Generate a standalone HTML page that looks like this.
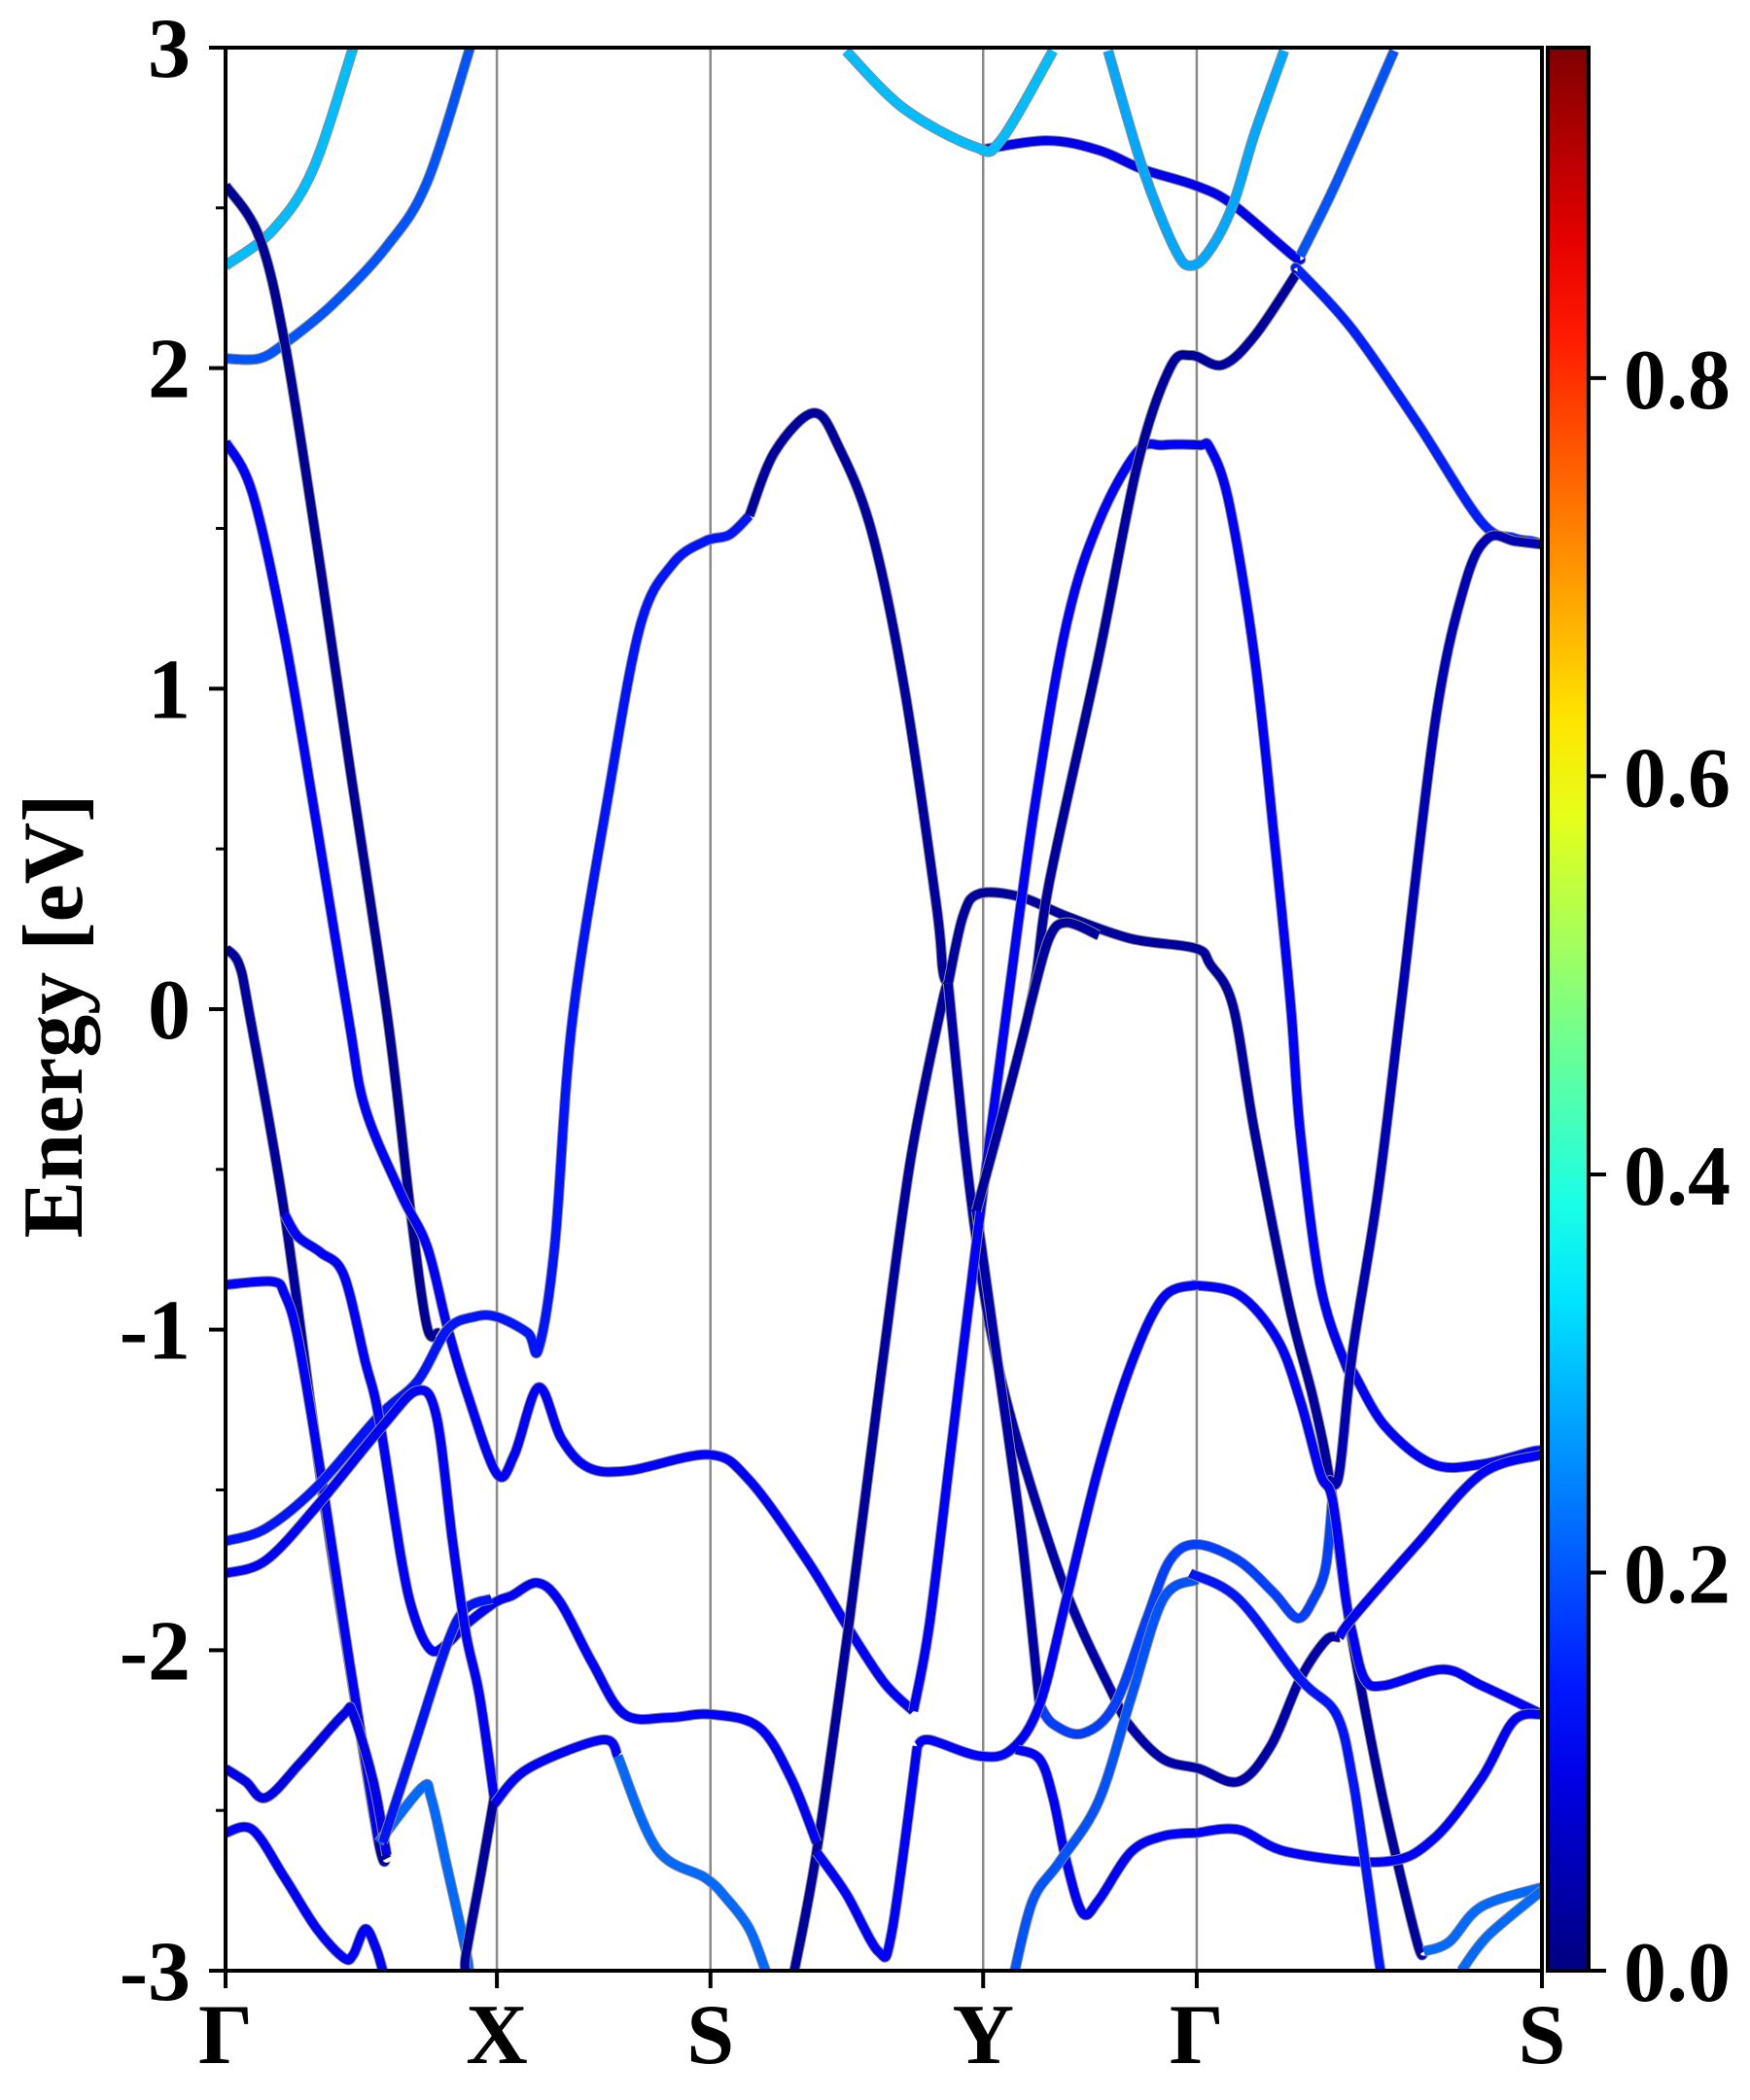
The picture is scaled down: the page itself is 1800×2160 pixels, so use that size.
<!DOCTYPE html>
<html><head><meta charset="utf-8"><style>
html,body{margin:0;padding:0;background:#fff;}
svg{display:block;}
text{font-family:"Liberation Serif",serif;font-weight:bold;fill:#000;}
</style></head>
<body>
<svg id="chart" width="1800" height="2160" viewBox="0 0 1800 2160" xmlns="http://www.w3.org/2000/svg">
<defs>
<clipPath id="plotclip"><rect x="232" y="49" width="1354" height="1978"/></clipPath>
<linearGradient id="jetgrad" x1="0" y1="1" x2="0" y2="0"></linearGradient>
</defs>
<g id="gridlines"></g>
<g id="bands" clip-path="url(#plotclip)"></g>
<g id="axes"></g>
<g id="cbar"></g>
<text x="0" y="0" font-size="88" text-anchor="middle" transform="translate(84,1045) rotate(-90)">Energy [eV]</text>
</svg>
<script>
// ---- data ----
const kLabels = ["Γ","X","S","Y","Γ","S"];
const kTicks = [0,202,361,564,723,980];
const yTickValues = [-3,-2,-1,0,1,2,3];
const yTickLabels = ["-3","-2","-1","0","1","2","3"];
const cbarTickValues = [0.0,0.2,0.4,0.6,0.8];
const cbarTickLabels = ["0.0","0.2","0.4","0.6","0.8"];
const bandK = [
 [0,35,65,95],
 [0,25,45,80,120,150,182],
 [0,25,44,68,92,121,138,150,158],
 [0,20,44,68,92,104,131,150,165,180,202,215,233,250,270,300,360,390,433,462,490,512],
 [0,10,18,44,71,92,114,120],
 [0,35,44,54,71,92,114],
 [0,30,68,114,143,165,185,202,225,233,245,258,285,309,333,357,375,390],
 [390,409,438,457,481,505,529,534,538],
 [538,549,561,592,626,674,722,733,750,766,791,810,822,834,844,863,887,892],
 [423,440,464,488,510,533,538],
 [538,549,559,570,589,626,662,674,698,725,754,778,800,819,829],
 [559,573,592,606],
 [606,616,638,662,686,703,723,754,780,798,810,819,824],
 [512,524,541,558,582,602,626,650,679,698,725,733,747,766,781,793,800,815,834,839,863,899,935,973,980],
 [559,599,613,650,679,703,719,742,766,798],
 [599,613,626,650],
 [561,611,650,683,722,750,795,800],
 [800,827,870],
 [462,505,558,577,616],
 [657,683,707,719,733,750,766,788],
 [798,800,839,887,935,959,973,980],
 [822,829,839,858,875,901,923,940,960,980],
 [718,754,783,800,815,824,834,839,848,863,906,935,980],
 [515,524,561,585,606,626,650,674,698,723],
 [440,462,486,496,515],
 [589,606,616,626,638,650,674,698,723],
 [723,754,791,863,899,935,959,980],
 [44,54,71,88,104,114,131,141,153,165,179,201,213,232,249,273,297,330,361,397,421,440],
 [0,15,30,56,88,95,110,120],
 [0,20,44,68,88,95,104,112,117],
 [114,146,153,165,179,181],
 [117,141,165,179,198],
 [0,30,68,117,143,157,169,179,189,200],
 [200,190,179,179],
 [200,225,280,292],
 [292,321,357,372,390,402],
 [587,601,621,650,674,698,723],
 [718,754,800,827,839,848,858,860],
 [829,839,887,935,980],
 [892,911,935,980],
 [920,940,980]
];
const bandE = [
 [2.32,2.43,2.62,3.0],
 [2.03,2.03,2.08,2.20,2.38,2.58,3.0],
 [2.57,2.41,2.08,1.45,0.77,-0.04,-0.64,-0.99,-1.01],
 [1.77,1.61,1.16,0.57,-0.04,-0.31,-0.58,-0.74,-0.99,-1.20,-1.45,-1.39,-1.18,-1.34,-1.43,-1.44,-1.39,-1.47,-1.72,-1.92,-2.10,-2.19],
 [0.19,0.14,-0.02,-0.64,-1.47,-2.04,-2.60,-2.65],
 [-0.86,-0.85,-0.89,-1.03,-1.45,-2.03,-2.60],
 [-1.66,-1.62,-1.49,-1.27,-1.16,-1.00,-0.96,-0.96,-1.01,-1.06,-0.74,-0.04,0.67,1.20,1.39,1.46,1.48,1.54],
 [1.54,1.74,1.86,1.75,1.49,1.01,0.33,0.12,0.08],
 [0.08,0.29,0.36,0.35,0.29,0.22,0.19,0.14,0.01,-0.38,-0.91,-1.22,-1.47,-1.84,-2.09,-2.49,-2.91,-2.94],
 [-3.01,-2.63,-1.92,-1.14,-0.47,0.01,0.08],
 [0.08,-0.38,-0.72,-1.01,-1.34,-1.82,-2.15,-2.24,-2.34,-2.37,-2.41,-2.30,-2.09,-1.97,-1.96],
 [-0.63,-1.05,-1.62,-2.17],
 [-2.17,-2.23,-2.26,-2.17,-1.90,-1.72,-1.67,-1.72,-1.82,-1.90,-1.84,-1.74,-1.53],
 [-2.19,-1.92,-1.34,-0.76,0.01,0.62,1.20,1.52,1.74,1.76,1.76,1.75,1.58,1.10,0.52,0.01,-0.38,-0.86,-1.11,-1.13,-1.30,-1.42,-1.42,-1.38,-1.38],
 [-0.63,0.01,0.39,1.10,1.70,2.00,2.04,2.01,2.10,2.30],
 [0.01,0.22,0.27,0.23],
 [2.68,2.71,2.68,2.62,2.57,2.51,2.35,2.35],
 [2.35,2.58,2.99],
 [2.99,2.81,2.69,2.71,2.99],
 [2.99,2.62,2.37,2.32,2.37,2.51,2.73,2.99],
 [2.30,2.30,2.12,1.83,1.52,1.47,1.46,1.45],
 [-1.47,-1.45,-1.07,-0.57,0.01,0.91,1.33,1.47,1.46,1.45],
 [-0.86,-0.89,-1.03,-1.22,-1.45,-1.53,-1.84,-1.95,-2.09,-2.11,-2.06,-2.11,-2.20],
 [-2.30,-2.28,-2.33,-2.31,-2.17,-1.84,-1.43,-1.11,-0.90,-0.86],
 [-2.63,-2.76,-2.94,-2.88,-2.30],
 [-2.31,-2.34,-2.46,-2.66,-2.82,-2.78,-2.63,-2.58,-2.57],
 [-2.57,-2.56,-2.63,-2.66,-2.59,-2.40,-2.22,-2.20],
 [-0.64,-0.71,-0.76,-0.83,-1.10,-1.27,-1.72,-1.90,-2.00,-1.98,-1.92,-1.85,-1.83,-1.79,-1.85,-2.04,-2.20,-2.21,-2.20,-2.24,-2.40,-2.60],
 [-2.37,-2.41,-2.46,-2.35,-2.20,-2.20,-2.41,-2.64],
 [-2.57,-2.56,-2.71,-2.87,-2.96,-2.95,-2.87,-2.93,-3.0],
 [-2.60,-2.43,-2.46,-2.68,-2.94,-3.0],
 [-2.60,-2.29,-1.98,-1.87,-1.84],
 [-1.76,-1.72,-1.55,-1.30,-1.19,-1.27,-1.66,-1.95,-2.14,-2.46],
 [-2.46,-2.70,-2.95,-3.0],
 [-2.48,-2.37,-2.28,-2.33],
 [-2.33,-2.62,-2.71,-2.77,-2.87,-3.0],
 [-3.01,-2.78,-2.66,-2.47,-2.15,-1.84,-1.78],
 [-1.76,-1.84,-2.09,-2.20,-2.40,-2.65,-2.95,-3.0],
 [-1.96,-1.90,-1.67,-1.45,-1.39],
 [-2.94,-2.91,-2.80,-2.74],
 [-3.0,-2.89,-2.75]
];
const bandW = [0.30,0.20,0.02,0.12,0.03,0.12,0.14,0.03,0.03,0.03,0.04,0.04,0.18,0.12,0.03,0.03,0.10,0.20,0.30,0.28,0.15,0.05,0.12,0.12,0.12,0.12,0.12,0.12,0.10,0.12,0.22,0.14,0.12,0.03,0.12,0.22,0.20,0.14,0.12,0.22,0.22];
const vmax = 0.966;

// ---- scales ----
const PL=232, PR=1586, PT=49, PB=2027;
const kMax = 980, eMin=-3, eMax=3;
const xOf = k => PL + k*(PR-PL)/kMax;
const yOf = e => PT + (eMax-e)*(PB-PT)/(eMax-eMin);
function jet(t){
  t=Math.max(0,Math.min(1,t));
  const c=v=>Math.round(255*Math.max(0,Math.min(1,v)));
  return `rgb(${c(1.5-Math.abs(4*t-3))},${c(1.5-Math.abs(4*t-2))},${c(1.5-Math.abs(4*t-1))})`;
}
function smoothPath(pts){
  let d=`M${pts[0][0].toFixed(1)},${pts[0][1].toFixed(1)}`;
  for(let i=0;i<pts.length-1;i++){
    const p0=pts[Math.max(0,i-1)],p1=pts[i],p2=pts[i+1],p3=pts[Math.min(pts.length-1,i+2)];
    const c1=[p1[0]+(p2[0]-p0[0])/6,p1[1]+(p2[1]-p0[1])/6];
    const c2=[p2[0]-(p3[0]-p1[0])/6,p2[1]-(p3[1]-p1[1])/6];
    d+=`C${c1[0].toFixed(1)},${c1[1].toFixed(1)} ${c2[0].toFixed(1)},${c2[1].toFixed(1)} ${p2[0].toFixed(1)},${p2[1].toFixed(1)}`;
  }
  return d;
}
const NS="http://www.w3.org/2000/svg";
function mk(tag,attrs,parent){const el=document.createElementNS(NS,tag);for(const a in attrs)el.setAttribute(a,attrs[a]);parent.appendChild(el);return el;}

// high-symmetry lines
const gl=document.getElementById('gridlines');
for(let i=1;i<kTicks.length-1;i++){
  const ln=mk('line',{x1:xOf(kTicks[i]),x2:xOf(kTicks[i]),y1:PT,y2:PB,stroke:'#8a8a8a','stroke-width':2.5},gl);
  
  
}

// bands
const bg=document.getElementById('bands');
for(let b=0;b<bandK.length;b++){
  const pts=bandK[b].map((k,i)=>[xOf(k),yOf(bandE[b][i])]);
  const d=smoothPath(pts);
  const g=mk('g',{},bg);
  
  
  mk('path',{d:d,fill:'none',stroke:'#8c8c8c','stroke-width':11,'stroke-linecap':'butt','stroke-linejoin':'round'},g);
  mk('path',{d:d,fill:'none',stroke:jet(bandW[b]/vmax),'stroke-width':9,'stroke-linecap':'butt','stroke-linejoin':'round'},g);
}

// axes
const ax=document.getElementById('axes');
const frame=mk('rect',{x:PL,y:PT,width:PR-PL,height:PB-PT,fill:'none',stroke:'#000','stroke-width':4},ax);


for(let i=0;i<yTickValues.length;i++){
  const y=yOf(yTickValues[i]);
  mk('line',{x1:PL-17,x2:PL,y1:y,y2:y,stroke:'#000','stroke-width':4},ax);
  const t=mk('text',{x:196,y:y+30,'font-size':88,'text-anchor':'end'},ax);
  t.textContent=yTickLabels[i];
  
  
  if(i<yTickValues.length-1){
    const ym=yOf(yTickValues[i]+0.5);
    mk('line',{x1:PL-10,x2:PL,y1:ym,y2:ym,stroke:'#000','stroke-width':3},ax);
  }
}
for(let i=0;i<kTicks.length;i++){
  const x=xOf(kTicks[i]);
  mk('line',{x1:x,x2:x,y1:PB,y2:PB+18,stroke:'#000','stroke-width':4},ax);
  const t=mk('text',{x:x,y:2122,'font-size':88,'text-anchor':'middle'},ax);
  t.textContent=kLabels[i];
  
  
}

// colorbar
const grad=document.getElementById('jetgrad');
for(let i=0;i<=20;i++){mk('stop',{offset:(i/20),'stop-color':jet(i/20)},grad);}
const cb=document.getElementById('cbar');
const CL=1592,CR=1634;
const cr=mk('rect',{x:CL,y:PT,width:CR-CL,height:PB-PT,fill:'url(#jetgrad)',stroke:'#000','stroke-width':4},cb);


for(let i=0;i<cbarTickValues.length;i++){
  const y=PB-(cbarTickValues[i]/vmax)*(PB-PT);
  mk('line',{x1:CR,x2:CR+18,y1:y,y2:y,stroke:'#000','stroke-width':4},cb);
  const t=mk('text',{x:1670,y:y+31,'font-size':88},cb);
  t.textContent=cbarTickLabels[i];
  
  
}
</script>
</body></html>
